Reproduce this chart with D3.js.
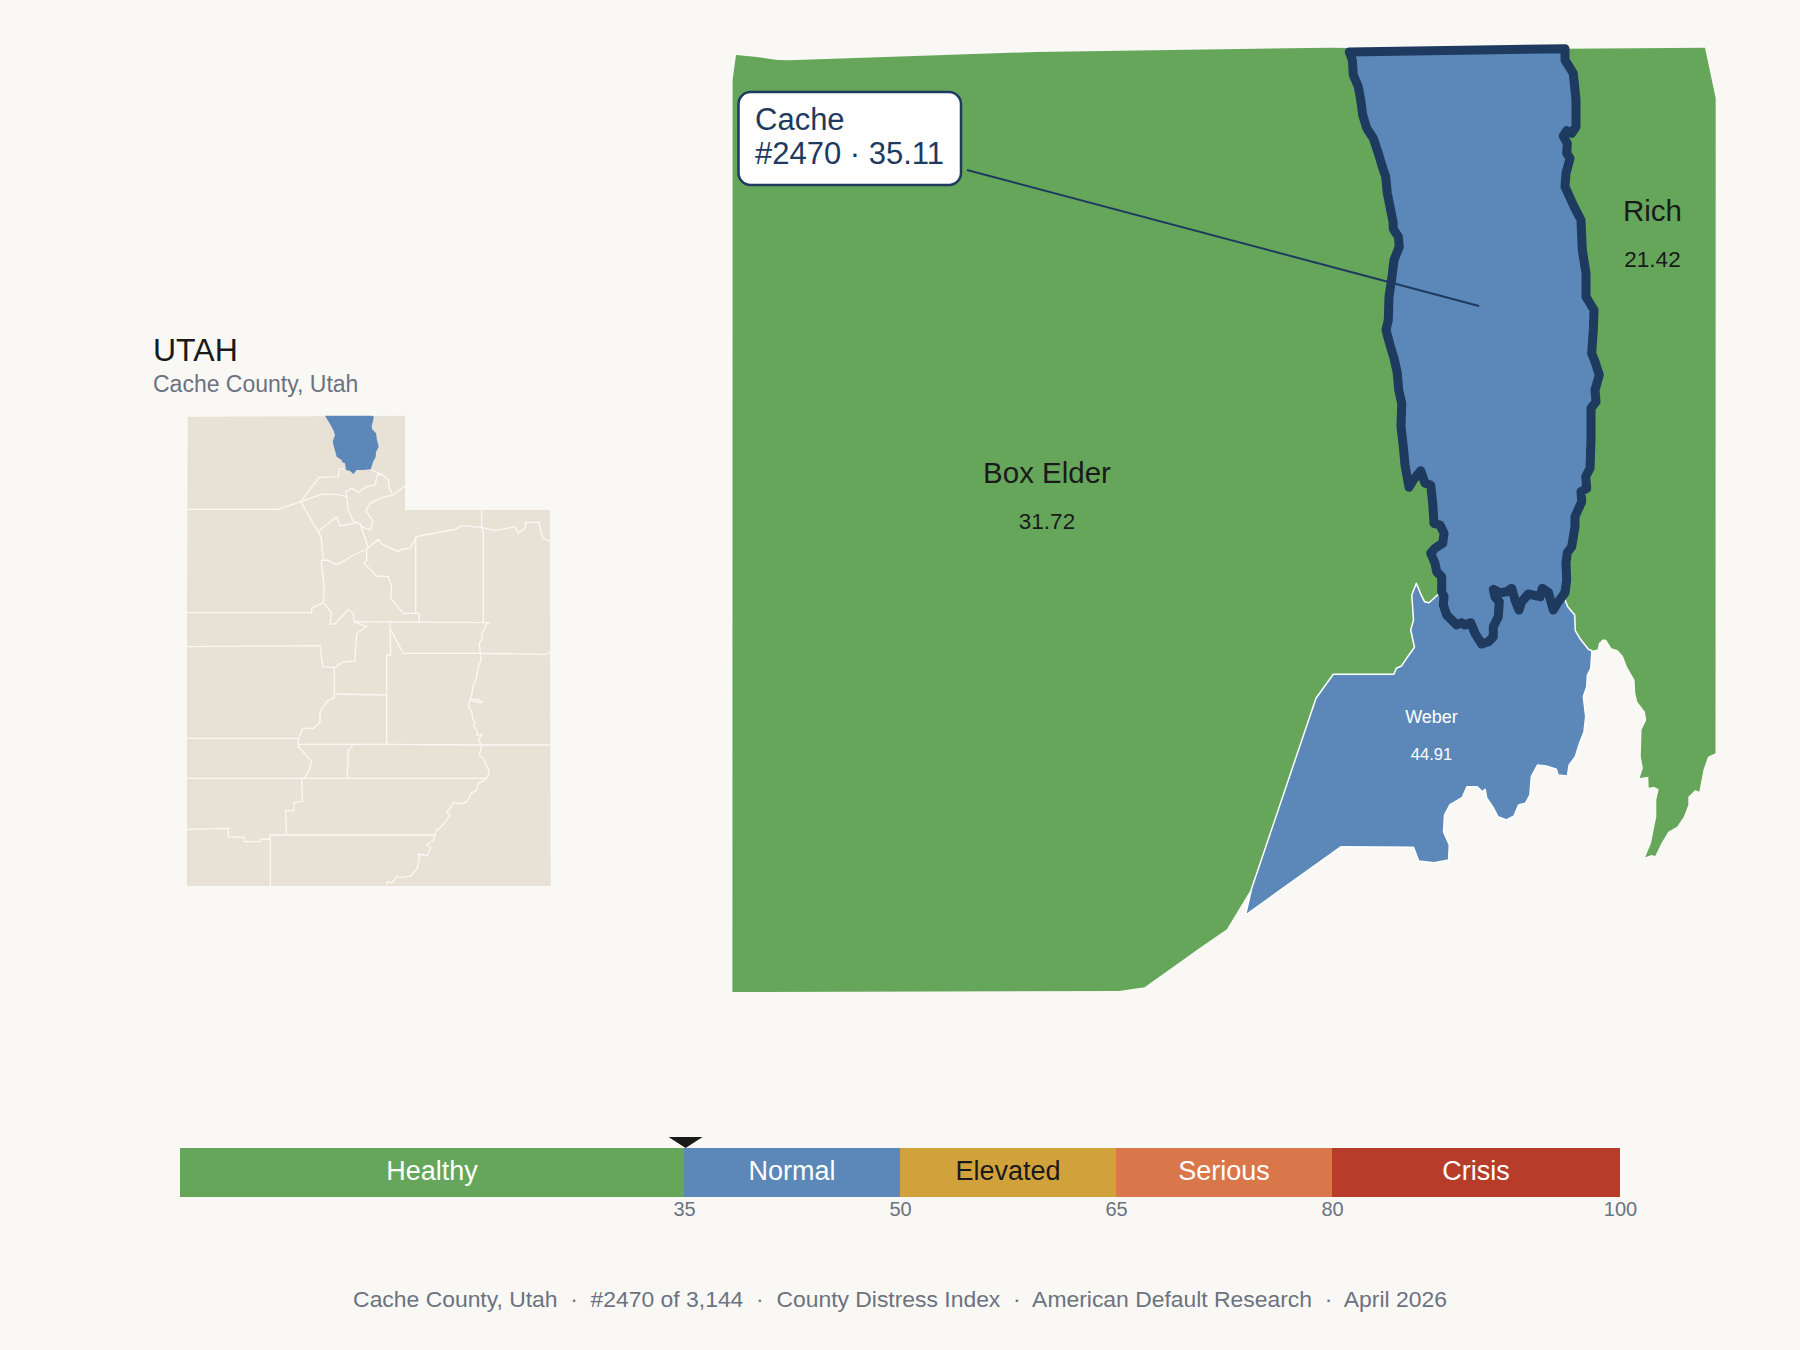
<!DOCTYPE html>
<html>
<head>
<meta charset="utf-8">
<script src="https://cdn.jsdelivr.net/npm/d3@7"></script>
<style>
  html, body { margin: 0; background: #faf8f5; }
  text { font-family: "Liberation Sans", Arial, sans-serif; }
</style>
</head>
<body>
<div id="chart"></div>
<script>
// severity bands
const bandNames = ['Healthy', 'Normal', 'Elevated', 'Serious', 'Crisis']
const bandStarts = [0, 35, 50, 65, 80]
const bandEnds = [35, 50, 65, 80, 100]
const bandColors = ['#66a65a', '#5b88b8', '#d1a23b', '#d9774a', '#b73c2a']
const bandTicks = [35, 50, 65, 80, 100]
const markerScore = 35.11

// neighbouring counties
const countyNames = ['Box Elder', 'Rich', 'Weber']
const countyScores = [31.72, 21.42, 44.91]

// outlines in map units
const boxElder = [[6,15],[24.4,16.7],[47.4,20],[59,20.3],[306,12],[600,7.7],[700,9],[760,400],[760,540],[707.6,555],[704,558.3],[699,562.7],[694.5,561.7],[690.4,553.3],[686.3,543.3],[681.8,555],[683.5,580],[680.7,590],[684.5,607.3],[676.6,618.3],[671.4,626],[666.3,628.3],[663.9,634.3],[603.3,634.3],[586,658.3],[521.7,848.3],[504.4,876.7],[496.9,889.3],[470,907.7],[414.6,947.3],[389,951],[2.4,952],[2.6,40]]
const rich = [[800,9],[975,7.7],[985.7,58.3],[985.5,713.3],[978,716.7],[973.4,730],[969.3,751.7],[965.2,750],[958.3,756.7],[958.3,765],[953.8,776.7],[947,786.7],[938.3,791.7],[931.4,803.3],[925.2,816],[921.7,815],[915.2,817.3],[921,803.3],[926.3,776.7],[926.3,760],[928.7,749.3],[923.9,746.7],[918.7,747.7],[918.3,736.7],[909.7,738],[912.9,728.3],[910.8,716.7],[911.5,690],[916.3,680],[914.9,671.7],[907.3,661.7],[905.3,653.3],[904.6,640],[897,626.7],[892.9,616],[887.4,610],[881.5,608.3],[876.3,600],[872.9,599.3],[868.8,603.3],[867.7,609.3],[861.9,610.7],[858.4,609.3],[850.5,599.3],[845.3,590.7],[844.7,575],[837.8,566.7],[835,560],[800,400]]
const weber = [[707.6,555],[750,540],[835,540],[835,560],[837.8,566.7],[844.7,575],[845.3,590.7],[850.5,599.3],[858.4,609.3],[861.9,610.7],[860.8,628.3],[857.4,635],[856.7,646.7],[853.3,656.7],[855.7,676.7],[854,691.7],[849.5,703.3],[845.3,716.7],[839.1,725],[837.4,736],[828.1,735],[826.4,729.3],[816.1,726],[807.5,725],[801.3,736.7],[799.9,755],[795.4,763.3],[788.5,765],[784,776],[776.5,780],[767.9,776.7],[762.7,766.7],[756.8,758.3],[755.1,749.3],[752.4,751.7],[747.2,746.7],[736.9,746.7],[732.4,757.3],[719.7,765],[714.5,775],[713.5,791.7],[719.3,805],[718.6,820],[704.2,822.7],[688.7,821],[683.5,807.3],[611.2,806.7],[515.5,875],[521.7,848.3],[586,658.3],[603.3,634.3],[663.9,634.3],[666.3,628.3],[671.4,626],[676.6,618.3],[684.5,607.3],[680.7,590],[683.5,580],[681.8,555],[686.3,543.3],[690.4,553.3],[694.5,561.7],[699,562.7],[704,558.3]]
const cache = [[619.3,12],[622.3,20],[623.3,35],[628.3,46.7],[630.7,60],[632.7,75],[636.7,88.3],[643.3,98.3],[648.3,113.3],[652.3,126.7],[655.7,136.7],[657.3,153.3],[660,166.7],[663,181.7],[663.3,189],[668.3,196.7],[669.3,206.7],[664,220],[662,236.7],[659,256.7],[658.3,280],[656,290],[660,305],[664,318.3],[667.3,333],[668.7,350],[671.7,363.3],[671,386.7],[673.3,406.7],[675,425],[679,447.3],[683.3,440],[690.7,430.7],[695,443.3],[700.7,445],[702.7,463.3],[704,483.3],[710,485],[714,493.3],[712.7,503.3],[705,508.3],[700.7,513.3],[705,523.3],[706.7,531.7],[711.7,536.7],[711.7,551.7],[714,556.7],[713.3,565],[716.7,575],[726.7,585],[731.7,582.7],[735,585],[740.7,582.7],[745,593.3],[751.7,604],[758.3,601.7],[763.3,596.7],[763.3,586.7],[768.3,576.7],[769.3,561.7],[765,556.7],[763.3,549.3],[770,552.7],[776.7,551.7],[781.7,548.3],[785,560],[789,570],[791.7,561.7],[798.3,554],[810,556.7],[812.3,548.3],[818.3,552.3],[823.3,570],[828.3,561.7],[835,552.7],[836.7,540],[836,523.3],[837.3,512.7],[841.7,506.7],[845,486.7],[845,476.7],[851.7,461.7],[851,451.7],[856.7,448.3],[855.7,436.7],[860,428.3],[861,400],[861,368.3],[866,361.7],[865,350],[869.3,335],[865,321.7],[861.7,313.3],[863.3,290],[864,270],[856,256.7],[856,233.3],[852.3,210],[851,180],[843.3,165],[835,146.7],[836,133.3],[840,118.3],[836.7,113.3],[837.3,103.3],[833.3,96],[836.7,90.7],[841.7,93.3],[846,86.7],[846,60],[843.3,33.3],[835,20],[835,8.7]]

// inset state, in inset units
const utahOutline = [[7.7,6.7],[225,5.7],[225,100],[370,100],[370,190],[370.7,476],[7,476],[7,190]]
const insetCache = [[145,5.7],[150,14],[153.3,20],[155,25],[152.7,31.7],[154,37],[156.7,46.7],[161.7,50],[162,52],[165,53.3],[166,60],[170,61],[173.3,64],[176.7,60],[183,60],[190.7,59.3],[193,52],[195.7,46.7],[196,42],[198.7,36.7],[197,30],[196,23.3],[192,19],[191.7,16],[194,6.7],[191.7,5.7]]
const insetBorders = [
  [[7.7,99.3],[98.3,99.3],[120.7,91.7],[141.7,84.3],[156.7,84.3],[166.7,86.7]],
  [[120.7,91.7],[139,67.3],[158.3,66.7],[159.3,59],[164,58.3]],
  [[166.7,86.7],[165.7,81.7],[171.7,78.3],[178.3,82.3],[186.7,76.7],[195,75],[197.3,65],[201.7,64.3],[208.3,70],[209.3,78.3],[212.3,83.3]],
  [[191.7,60],[201.7,64.3]],
  [[225,75.7],[213.3,85],[201.7,87.7],[190,93.3],[186,100.7],[193.3,111.7],[190,120],[181.7,116.7],[178.3,112.3]],
  [[166.7,86.7],[168.3,100],[173.3,111.7],[178.3,112.3]],
  [[137.7,121.7],[156.7,106.7],[160,116],[178.3,112.3]],
  [[120.7,91.7],[141,126.7],[143.3,150]],
  [[141,150.7],[148.3,150],[153,153.3],[158.3,154.3],[173.3,145],[185,140],[188.3,137.7]],
  [[180,113.3],[188.3,137.7]],
  [[188.3,137.7],[198.3,129.3],[201.7,134],[218.3,141.7],[222,139],[230,138.3],[236.7,126.7],[244,125],[253.3,123.3],[275,119.3],[281.7,115.7],[301.7,117.3],[315,120.7],[335,116.7],[338.3,123.3],[345,118.3],[345.7,112.3],[359,112.3],[362.7,128.3],[370,131.7]],
  [[301.7,100],[301.7,117.3],[303.3,121.7],[303.3,211.7]],
  [[235.7,126.7],[235.7,203.3]],
  [[186.7,138.3],[186.7,150],[184,153.3],[196.7,166],[208.3,166.7],[211.7,176.7],[210.7,188.3],[223.3,203.3],[239.3,203.3],[239.3,211.7]],
  [[141,150.7],[144.3,176.7],[143.3,192.7],[131.7,198.3],[131.7,202.7],[7,202.7]],
  [[143.3,192.7],[151.7,203.3],[150,214],[155,214],[161.7,206.7],[168.3,199.3],[173.3,203.3],[174,211.7]],
  [[174,211.7],[310,212.7],[306.7,213.3],[305,218.3],[301.7,223.3],[302.3,228.3],[299.3,233.3],[300,240],[301,250],[298.3,256.7],[296,270],[293.3,275],[291.7,285],[290,290],[288.3,296.7],[291.7,301.7],[292.7,308.3],[295,313.3],[293.3,316],[297.3,320.7],[296.7,325],[301.7,324.3],[298.3,330],[301.7,335],[299.3,345],[303.3,348.3],[305,353.3],[308.3,358.3],[309.3,364],[305,370],[298.3,373.3],[296,380.7],[291.7,382.7],[286.7,391.7],[281.7,394],[273.3,392.7],[270,398.3],[266.7,402.3],[270,405],[265,412.7],[260.7,417.3],[256.7,420],[253.3,430],[250.7,431.7],[246.7,435],[250.7,437.3],[247.3,446],[238.3,444],[239.3,448.3],[237.3,458.3],[230.7,466],[221.7,467.3],[216.7,466.7],[211.7,472.7],[206.7,471.7],[207.3,475]],
  [[290.3,290],[296.7,289],[301.7,291.7],[300,292.7],[291.7,290.7]],
  [[154.3,256.7],[154.3,288.3]],
  [[7,236.7],[140,235.7],[142.7,256.7],[155,257.7],[161.7,252.3],[175,251],[176.7,223.3],[186.7,216.7],[174,211.7]],
  [[210,211.7],[210.7,245],[206.7,245],[206.7,334.3]],
  [[210.7,220],[223.3,243.3],[300,243.3],[366.7,244.3],[370,241.7]],
  [[155,284],[206.7,285]],
  [[154.3,287.7],[146.7,291.7],[140,301.7],[140,312.7],[133.3,318.3],[122.7,318.3],[118.3,330],[118.3,336.7],[125,344],[131.7,351.7],[128.3,361.7],[124,368.3]],
  [[7,328.3],[118.3,328.3]],
  [[118.3,334.3],[206.7,334.3],[301,335],[370,335]],
  [[173.3,334.3],[168.3,340],[167.3,368.3]],
  [[7,368.3],[306.7,368.3]],
  [[121.7,368.3],[122.3,391.7],[114,392.3],[114,400.7],[105.7,400.7],[106.3,425]],
  [[90.3,476],[90.3,425],[254.3,425]],
  [[7,419.3],[48.3,418.3],[48.3,426.7],[64,427.3],[64.7,431.7],[80,431.7],[80.7,429.3],[90.3,429]]
]

const green = bandColors[0]
const blue = bandColors[1]
const navy = '#1e3a5f'
const ink = '#1a1a1a'
const grey = '#6b7280'

const svg = d3.select('#chart').append('svg').attr('width', 1800).attr('height', 1350)

const mapX = d3.scaleLinear().domain([0, 1000]).range([730, 1730])
const mapY = d3.scaleLinear().domain([0, 1000]).range([40, 1040])
const insetX = d3.scaleLinear().domain([0, 400]).range([180, 580])
const insetY = d3.scaleLinear().domain([0, 500]).range([410, 910])
const mapLine = d3.line().x(d => mapX(d[0])).y(d => mapY(d[1]))
const insetLine = d3.line().x(d => insetX(d[0])).y(d => insetY(d[1]))
const band = d3.scaleLinear().domain([0, 100]).range([180, 1620])

// inset
svg.append('text').attr('x', 153).attr('y', 361).attr('font-size', 32).attr('fill', ink).text('UTAH')
svg.append('text').attr('x', 153).attr('y', 392).attr('font-size', 23).attr('fill', grey).text('Cache County, Utah')

svg.append('path').attr('d', insetLine(utahOutline) + 'Z').attr('fill', '#e8e2d6')
svg.append('g').selectAll('path').data(insetBorders).join('path')
  .attr('d', d => insetLine(d))
  .attr('fill', 'none')
  .attr('stroke', '#faf8f5')
  .attr('stroke-width', 1.3)
svg.append('path').attr('d', insetLine(insetCache) + 'Z').attr('fill', blue)

// main map
const mapShapes = [boxElder, rich, weber]
const mapFills = [green, green, blue]
svg.append('g').selectAll('path').data(mapShapes).join('path')
  .attr('d', d => mapLine(d) + 'Z')
  .attr('fill', (_, i) => mapFills[i])
  .attr('stroke', (_, i) => i === 2 ? '#fff' : 'none')
  .attr('stroke-width', 1.5)
  .attr('stroke-linejoin', 'round')

svg.append('path')
  .attr('d', mapLine(cache) + 'Z')
  .attr('fill', blue)
  .attr('stroke', navy)
  .attr('stroke-width', 9)
  .attr('stroke-linejoin', 'round')

// county labels
const labelX = [317, 922.5, 701.5]
const labelY = [443, 181, 683]
const nameSize = [29.5, 29.5, 18]
const scoreSize = [22.5, 22.5, 16.5]
const scoreGap = [46, 46, 37]
const labelFill = [ink, ink, '#fff']

const labels = svg.append('g').selectAll('g').data(countyNames).join('g')
  .attr('text-anchor', 'middle')
  .attr('fill', (_, i) => labelFill[i])
labels.append('text')
  .attr('x', (_, i) => mapX(labelX[i]))
  .attr('y', (_, i) => mapY(labelY[i]))
  .attr('font-size', (_, i) => nameSize[i])
  .text(d => d)
labels.append('text')
  .attr('x', (_, i) => mapX(labelX[i]))
  .attr('y', (_, i) => mapY(labelY[i]) + scoreGap[i])
  .attr('font-size', (_, i) => scoreSize[i])
  .text((_, i) => countyScores[i].toFixed(2))

// callout
svg.append('line')
  .attr('x1', 967).attr('y1', 170)
  .attr('x2', 1479).attr('y2', 306)
  .attr('stroke', navy).attr('stroke-width', 2)
svg.append('rect')
  .attr('x', 738.5).attr('y', 92)
  .attr('width', 222.5).attr('height', 93)
  .attr('rx', 12)
  .attr('fill', '#fff').attr('stroke', navy).attr('stroke-width', 2.5)
const callout = svg.append('text').attr('font-size', 31).attr('fill', navy)
callout.append('tspan').attr('x', 755).attr('y', 130).text('Cache')
callout.append('tspan').attr('x', 755).attr('y', 164).text('#2470 · 35.11')

// band
svg.append('g').selectAll('rect').data(bandNames).join('rect')
  .attr('x', (_, i) => band(bandStarts[i]))
  .attr('y', 1148)
  .attr('width', (_, i) => band(bandEnds[i]) - band(bandStarts[i]))
  .attr('height', 49)
  .attr('fill', (_, i) => bandColors[i])
svg.append('g').selectAll('text').data(bandNames).join('text')
  .attr('x', (_, i) => band((bandStarts[i] + bandEnds[i]) / 2))
  .attr('y', 1180)
  .attr('text-anchor', 'middle')
  .attr('font-size', 27)
  .attr('fill', d => d === 'Elevated' ? ink : '#fff')
  .text(d => d)

const axis = svg.append('g')
  .attr('transform', 'translate(0,1197)')
  .call(d3.axisBottom(band).tickValues(bandTicks).tickSize(0).tickPadding(5))
axis.select('.domain').remove()
axis.selectAll('text').attr('font-size', 20).attr('fill', grey).style('font-family', '"Liberation Sans", Arial, sans-serif')

const mx = band(markerScore)
svg.append('path')
  .attr('d', d3.line()([[mx - 17, 1137], [mx + 17, 1137], [mx, 1148]]) + 'Z')
  .attr('fill', ink)

// footer
svg.append('text')
  .attr('x', 900).attr('y', 1307)
  .attr('text-anchor', 'middle')
  .attr('font-size', 22.9)
  .attr('fill', grey)
  .style('white-space', 'pre')
  .text('Cache County, Utah  ·  #2470 of 3,144  ·  County Distress Index  ·  American Default Research  ·  April 2026')
</script>
</body>
</html>
